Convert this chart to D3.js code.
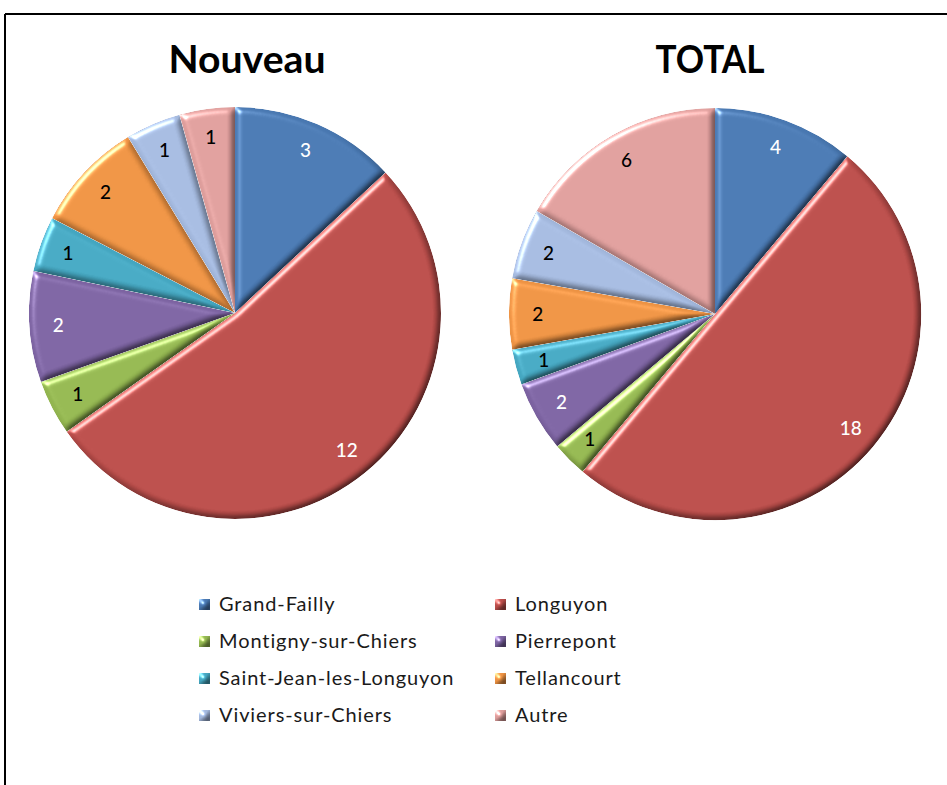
<!DOCTYPE html>
<html><head><meta charset="utf-8">
<script src="https://cdn.jsdelivr.net/npm/d3@7"></script>
<style>html,body{margin:0;padding:0;background:#fff;}svg{display:block;}</style>
</head><body>
<svg id="chart" width="947" height="785"></svg>
<script>
const categories = ["Grand-Failly","Longuyon","Montigny-sur-Chiers","Pierrepont","Saint-Jean-les-Longuyon","Tellancourt","Viviers-sur-Chiers","Autre"];
const nouveauValues = [3,12,1,2,1,2,1,1];
const totalValues = [4,18,1,2,1,2,2,6];
const chartTitles = ["Nouveau","TOTAL"];
const sliceColors = ["#4877B0","#B84C49","#92B54F","#7B62A0","#44A6C0","#EB9142","#A3B8DD","#DC9C9A"];
const labelColors = ["#fff","#fff","#000","#fff","#000","#000","#000","#000"];

const svg = d3.select("#chart");
const defs = svg.append("defs");
const f = defs.append("filter").attr("id","bevel").attr("x","-5%").attr("y","-5%").attr("width","110%").attr("height","110%")
  .attr("color-interpolation-filters","sRGB");
f.append("feGaussianBlur").attr("in","SourceAlpha").attr("stdDeviation",3).attr("result","blur");
const dl = f.append("feDiffuseLighting").attr("in","blur").attr("surfaceScale",3).attr("diffuseConstant",1.414).attr("lighting-color","#fff").attr("result","diff");
dl.append("feDistantLight").attr("azimuth",225).attr("elevation",45);
f.append("feComposite").attr("in","diff").attr("in2","diff").attr("operator","arithmetic").attr("k2",0.7).attr("k4",0.3).attr("result","diffSoft");
f.append("feComposite").attr("in","SourceGraphic").attr("in2","diffSoft").attr("operator","arithmetic").attr("k1",1).attr("result","shaded");
const sl = f.append("feSpecularLighting").attr("in","blur").attr("surfaceScale",3).attr("specularConstant",0.6).attr("specularExponent",40).attr("lighting-color","#fff").attr("result","spec");
sl.append("feDistantLight").attr("azimuth",225).attr("elevation",45);
f.append("feComposite").attr("in","spec").attr("in2","SourceAlpha").attr("operator","in").attr("result","specIn");
f.append("feComposite").attr("in","shaded").attr("in2","specIn").attr("operator","arithmetic").attr("k2",1).attr("k3",1).attr("result","lit");
f.append("feComposite").attr("in","lit").attr("in2","SourceAlpha").attr("operator","in");

// frame
svg.append("line").attr("x1",5).attr("y1",14).attr("x2",947).attr("y2",14).attr("stroke","#000").attr("stroke-width",2);
svg.append("line").attr("x1",5).attr("y1",14).attr("x2",5).attr("y2",785).attr("stroke","#000").attr("stroke-width",2);

const R = 206;
const pie = d3.pie().sort(null).value(d => d);
const arc = d3.arc().innerRadius(0).outerRadius(R);
const labelArc = d3.arc().innerRadius(R*0.86).outerRadius(R*0.86);
const centers = [[235,313],[715,314]];
const titleX = [247,710];
const titleW = [157,109];
[nouveauValues,totalValues].forEach((vals,k) => {
  const g = svg.append("g").attr("transform",`translate(${centers[k][0]},${centers[k][1]})`);
  const arcs = pie(vals);
  g.selectAll("path.slice").data(arcs).join("path").attr("class","slice")
    .attr("d",arc).attr("fill",(d,i)=>sliceColors[i]).attr("filter","url(#bevel)");
  g.selectAll("text").data(arcs).join("text")
    .attr("transform",d=>`translate(${labelArc.centroid(d)})`)
    .attr("text-anchor","middle").attr("dy","0.35em")
    .attr("font-family","Lato, 'Open Sans', sans-serif").attr("font-size",19).attr("font-weight",500)
    .attr("fill",(d,i)=>labelColors[i]).text(d=>d.data);
  svg.append("text").attr("x",titleX[k]).attr("y",73).attr("text-anchor","middle")
    .attr("font-family","Lato, 'Open Sans', sans-serif").attr("font-weight","bold").attr("font-size",39)
    .attr("textLength",titleW[k]).attr("lengthAdjust","spacingAndGlyphs")
    .text(chartTitles[k]);
});

// legend
const legX = [199,495], legY0 = 604, legDy = 37;
const lg = svg.append("g");
categories.forEach((c,i) => {
  const col = i%2, row = Math.floor(i/2);
  const x = legX[col], y = legY0 + row*legDy;
  lg.append("rect").attr("x",x).attr("y",y-5).attr("width",11).attr("height",11)
    .attr("fill",sliceColors[i]).attr("filter","url(#bevel)");
  lg.append("text").attr("x",x+20).attr("y",y).attr("dy","0.35em")
    .attr("font-family","Lato, 'Open Sans', sans-serif").attr("font-size",20).attr("letter-spacing",0.9)
    .attr("fill","#1a1a1a").text(c);
});
</script>
</body></html>
